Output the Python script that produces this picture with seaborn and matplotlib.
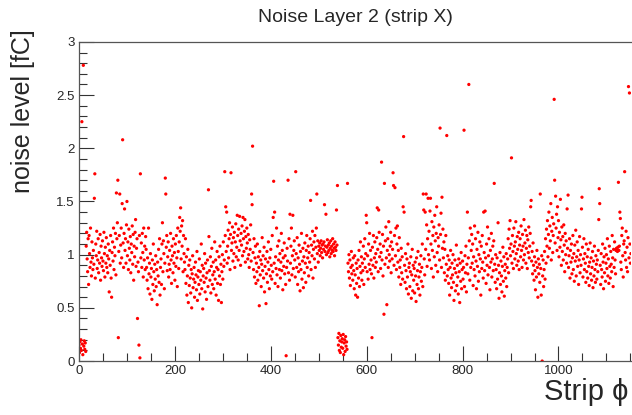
import numpy as np
import pandas as pd
import matplotlib
matplotlib.use("Agg")
import matplotlib.pyplot as plt
import seaborn as sns
from matplotlib.ticker import MultipleLocator, FuncFormatter

# noise per strip, in hundredths of fC (blocks of 100 strips)
noise_0000 = [15, 8, 18, 12, 20, 10, 225, 16, 6, 278, 14, 19, 11, 17, 9, 108, 121, 96, 84, 115,
              72, 118, 101, 88, 125, 93, 80, 112, 97, 86, 104, 91, 153, 176, 78, 110, 99, 122, 87, 95,
              115, 83, 102, 92, 119, 76, 108, 97, 89, 113, 94, 85, 121, 101, 79, 107, 92, 116, 88, 99,
              83, 110, 96, 65, 104, 90, 118, 78, 60, 102, 112, 94, 125, 86, 107, 99, 120, 81, 158, 115,
              130, 170, 22, 103, 118, 157, 92, 109, 125, 97, 148, 208, 111, 88, 120, 143, 104, 115, 92, 128]
noise_0100 = [150, 99, 112, 86, 124, 106, 95, 117, 83, 110, 102, 127, 91, 119, 76, 108, 98, 121, 133, 89,
              106, 115, 40, 93, 84, 15, 118, 3, 176, 97, 111, 88, 120, 102, 79, 125, 95, 108, 86, 117,
              105, 88, 76, 97, 68, 125, 82, 92, 63, 101, 79, 87, 58, 95, 72, 110, 84, 66, 91, 77,
              99, 70, 86, 53, 93, 80, 105, 74, 115, 62, 88, 96, 72, 110, 130, 84, 113, 101, 68, 92,
              172, 157, 107, 118, 85, 98, 112, 79, 91, 104, 86, 120, 95, 73, 108, 99, 83, 115, 92, 102]
noise_0200 = [76, 110, 89, 118, 97, 70, 125, 103, 87, 112, 135, 122, 144, 96, 127, 108, 132, 84, 118, 101,
              93, 86, 115, 73, 98, 62, 80, 105, 55, 90, 71, 95, 78, 64, 86, 50, 82, 99, 69, 77,
              88, 60, 74, 93, 81, 67, 103, 57, 79, 85, 72, 96, 63, 84, 76, 110, 68, 90, 49, 80,
              87, 74, 101, 65, 92, 78, 58, 83, 95, 70, 161, 117, 85, 76, 98, 64, 89, 106, 72, 81,
              93, 68, 84, 112, 77, 95, 62, 88, 103, 73, 86, 57, 98, 80, 108, 72, 91, 55, 84, 100]
noise_0300 = [77, 112, 89, 95, 178, 118, 145, 103, 140, 92, 108, 123, 97, 115, 130, 86, 119, 177, 104, 111,
              126, 94, 116, 101, 121, 88, 112, 129, 98, 107, 137, 118, 95, 124, 104, 136, 113, 90, 120, 109,
              127, 99, 135, 115, 103, 122, 133, 93, 117, 106, 125, 111, 96, 119, 100, 88, 114, 105, 128, 94,
              157, 147, 202, 102, 86, 115, 79, 97, 108, 73, 92, 84, 110, 76, 98, 88, 52, 103, 81, 95,
              70, 91, 116, 85, 99, 78, 107, 65, 89, 96, 54, 82, 103, 74, 93, 112, 86, 68, 97, 80]
noise_0400 = [105, 90, 77, 118, 84, 135, 169, 92, 140, 73, 98, 87, 125, 81, 108, 70, 95, 113, 86, 101,
              78, 93, 120, 85, 104, 67, 97, 89, 111, 82, 99, 72, 5, 88, 106, 94, 170, 83, 115, 76,
              138, 92, 108, 125, 81, 99, 137, 87, 104, 113, 95, 79, 178, 101, 88, 116, 72, 97, 84, 109,
              91, 66, 103, 86, 120, 77, 94, 106, 69, 98, 83, 111, 92, 74, 104, 118, 88, 97, 108, 80,
              102, 93, 115, 151, 86, 109, 99, 122, 78, 105, 112, 96, 118, 88, 107, 125, 157, 101, 113, 93]
noise_0500 = [108, 104, 111, 99, 106, 113, 102, 109, 97, 110, 105, 112, 147, 103, 108, 138, 100, 107, 114, 102,
              109, 104, 111, 98, 106, 113, 101, 108, 104, 115, 103, 110, 106, 99, 112, 107, 104, 142, 109, 165,
              22, 15, 26, 10, 19, 8, 24, 13, 18, 21, 12, 25, 6, 17, 20, 9, 23, 14, 18, 11,
              167, 92, 84, 100, 78, 95, 71, 88, 103, 82, 90, 76, 97, 85, 68, 99, 81, 62, 92, 73,
              87, 60, 95, 78, 104, 70, 89, 112, 83, 98, 76, 92, 85, 108, 72, 96, 115, 88, 101, 137]
noise_0600 = [130, 84, 99, 77, 110, 91, 120, 86, 104, 95, 82, 22, 107, 90, 118, 78, 97, 112, 88, 101,
              93, 116, 144, 105, 84, 142, 121, 98, 110, 87, 102, 187, 95, 119, 80, 108, 44, 167, 91, 113,
              126, 97, 53, 104, 115, 88, 131, 100, 94, 108, 121, 83, 112, 96, 105, 177, 165, 90, 118, 163,
              99, 125, 86, 110, 127, 93, 104, 79, 116, 88, 95, 72, 106, 83, 98, 77, 145, 211, 140, 90,
              74, 101, 85, 68, 96, 79, 110, 63, 88, 92, 70, 84, 98, 59, 81, 105, 66, 90, 76, 87]
noise_0700 = [64, 93, 80, 56, 97, 72, 85, 103, 68, 79, 91, 62, 84, 99, 75, 88, 110, 70, 157, 142,
              96, 81, 140, 105, 157, 128, 89, 115, 153, 100, 122, 95, 141, 153, 110, 87, 131, 104, 118, 79,
              126, 98, 137, 113, 90, 120, 145, 102, 84, 116, 108, 128, 95, 219, 119, 139, 88, 154, 106, 124,
              97, 112, 83, 105, 76, 118, 91, 212, 80, 99, 86, 73, 95, 62, 88, 104, 78, 69, 92, 81,
              100, 74, 57, 87, 95, 66, 83, 109, 71, 90, 79, 63, 96, 84, 55, 92, 75, 102, 68, 86]
noise_0800 = [94, 77, 88, 217, 70, 99, 83, 108, 65, 91, 140, 82, 97, 260, 113, 76, 125, 88, 104, 119,
              92, 110, 71, 98, 86, 127, 80, 115, 94, 68, 105, 89, 121, 75, 100, 84, 112, 96, 62, 108,
              87, 118, 93, 78, 140, 102, 85, 141, 97, 73, 110, 90, 126, 81, 99, 115, 88, 67, 104, 93,
              120, 79, 96, 108, 85, 113, 167, 91, 74, 100, 86, 68, 97, 77, 130, 90, 59, 83, 102, 72,
              94, 80, 65, 89, 107, 75, 98, 61, 85, 91, 78, 101, 70, 88, 96, 115, 83, 124, 106, 132]
noise_0900 = [99, 110, 191, 92, 118, 103, 87, 125, 108, 96, 112, 131, 101, 90, 117, 105, 94, 121, 86, 109,
              115, 98, 127, 104, 88, 119, 108, 95, 133, 100, 111, 123, 92, 106, 118, 87, 114, 102, 126, 97,
              108, 120, 145, 151, 94, 103, 82, 111, 90, 76, 98, 85, 67, 93, 79, 104, 88, 60, 96, 82,
              91, 74, 157, 87, 62, 99, 0, 80, 95, 70, 86, 103, 77, 115, 92, 124, 108, 132, 98, 119,
              140, 106, 127, 113, 148, 95, 122, 135, 102, 118, 129, 246, 170, 111, 155, 125, 138, 104, 145, 116]
noise_1000 = [132, 98, 121, 107, 152, 114, 90, 126, 103, 117, 95, 128, 109, 84, 120, 100, 113, 92, 143, 106,
              156, 88, 99, 115, 78, 104, 93, 110, 82, 97, 118, 86, 101, 75, 109, 94, 123, 80, 98, 112,
              89, 104, 72, 95, 117, 83, 100, 90, 143, 154, 107, 79, 96, 115, 86, 101, 92, 74, 110, 84,
              98, 78, 105, 89, 71, 93, 111, 82, 97, 76, 88, 103, 69, 94, 80, 108, 86, 74, 99, 91,
              77, 95, 84, 104, 133, 162, 148, 90, 72, 101, 86, 79, 110, 93, 68, 98, 83, 106, 75, 92]
noise_1100 = [100, 87, 115, 80, 96, 73, 108, 89, 78, 103, 91, 84, 118, 97, 70, 105, 88, 112, 95, 82,
              104, 106, 105, 103, 107, 168, 104, 108, 140, 134, 93, 86, 118, 125, 99, 79, 110, 113, 178, 102,
              95, 122, 88, 107, 84, 116, 258, 97, 252, 110, 92, 101]

blocks = [noise_0000, noise_0100, noise_0200, noise_0300, noise_0400, noise_0500,
          noise_0600, noise_0700, noise_0800, noise_0900, noise_1000, noise_1100]
noise = [v for b in blocks for v in b]

df = pd.DataFrame({"strip": np.arange(len(noise)),
                   "noise": np.array(noise) / 100.0})

sns.set_theme(style="ticks")
plt.rcParams["font.family"] = ["Liberation Sans", "DejaVu Sans"]

fig = plt.figure(figsize=(6.32, 4.15), dpi=100)
ax = fig.add_axes([0.125, 0.130, 0.874, 0.769])

sns.scatterplot(data=df, x="strip", y="noise", ax=ax, color="#ff0000",
                s=5.5, linewidth=0, edgecolor="none")

ax.set_xlim(0, 1152)
ax.set_ylim(0, 3)

# ROOT-like inward ticks
ax.xaxis.set_major_locator(MultipleLocator(200))
ax.xaxis.set_minor_locator(MultipleLocator(50))
ax.yaxis.set_major_locator(MultipleLocator(0.5))
ax.yaxis.set_minor_locator(MultipleLocator(0.1))
ax.yaxis.set_major_formatter(FuncFormatter(lambda v, p: f"{v:g}"))
ax.tick_params(which="major", direction="in", length=11, width=0.8, color="#333333",
               labelsize=9.5, pad=3)
ax.tick_params(which="minor", direction="in", length=5.5, width=0.8, color="#333333")

for side in ["left", "bottom", "top"]:
    ax.spines[side].set_color("#555555")
    ax.spines[side].set_linewidth(0.9)
ax.spines["right"].set_visible(False)

ax.set_xlabel("")
ax.set_ylabel("")
fig.text(0.995, 0.022, "Strip ϕ", ha="right", va="bottom", fontsize=21)
fig.text(0.036, 0.93, "noise level [fC]", rotation=90, ha="center", va="top", fontsize=18)
fig.text(0.562, 0.958, "Noise Layer 2 (strip X)", ha="center", va="center", fontsize=14)

fig.savefig("out.png", dpi=100)
